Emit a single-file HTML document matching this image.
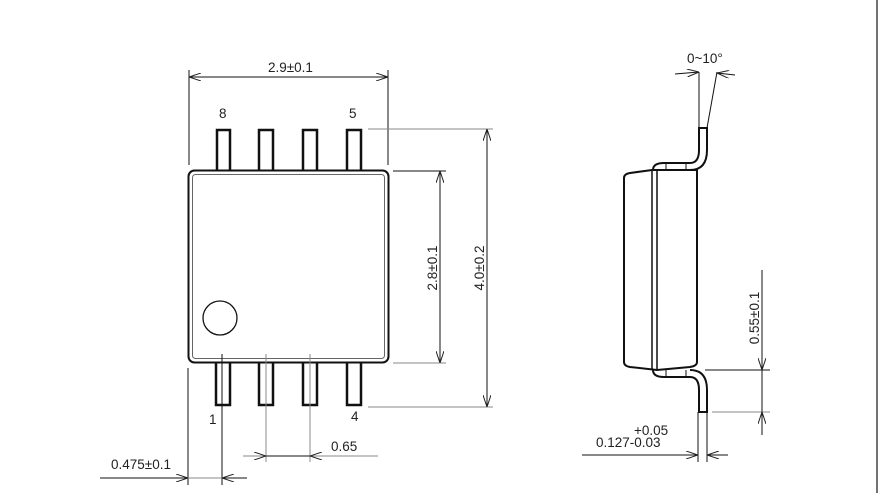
<!DOCTYPE html>
<html><head><meta charset="utf-8"><style>
html,body{margin:0;padding:0;background:#fff;}
svg{display:block}
text{font-family:"Liberation Sans",sans-serif;font-size:13.5px;fill:#222}
</style></head><body>
<svg width="878" height="495" viewBox="0 0 878 495" xmlns="http://www.w3.org/2000/svg">
<defs>
<marker id="a" viewBox="0 0 12 8" refX="12" refY="4" markerWidth="12" markerHeight="8" markerUnits="userSpaceOnUse" orient="auto-start-reverse">
<path d="M0,0 L12,4 L0,8" fill="none" stroke="#222" stroke-width="1"/></marker>
</defs>
<line x1="877" y1="0" x2="877" y2="493" stroke="#444" stroke-width="1.5"/>
<g fill="none" stroke="#111" stroke-width="1">
<rect x="188.5" y="170.5" width="200" height="192" rx="6" stroke-width="2"/>
<rect x="192.5" y="174.5" width="192" height="184" rx="3" stroke="#666"/>
<circle cx="220" cy="318" r="17" stroke-width="1.3"/>
<g stroke-width="2.5">
<path d="M217,170 V130 H230 V170"/><path d="M259,170 V130 H273 V170"/>
<path d="M303,170 V130 H317 V170"/><path d="M347,170 V130 H361 V170"/>
<path d="M216,363 V405 H230 V363"/><path d="M259,363 V405 H273 V363"/>
<path d="M303,363 V405 H317 V363"/><path d="M347,363 V405 H361 V363"/>
</g>
<line x1="189" y1="70" x2="189" y2="165"/>
<line x1="388" y1="70" x2="388" y2="165"/>
<line x1="189" y1="77" x2="388" y2="77" marker-start="url(#a)" marker-end="url(#a)"/>
<line x1="368" y1="129" x2="493" y2="129" stroke="#888"/>
<line x1="368" y1="407" x2="493" y2="407" stroke="#888"/>
<line x1="487" y1="129" x2="487" y2="407" marker-start="url(#a)" marker-end="url(#a)"/>
<line x1="393" y1="171" x2="446" y2="171"/>
<line x1="393" y1="363" x2="446" y2="363" stroke="#888"/>
<line x1="440" y1="171" x2="440" y2="363" marker-start="url(#a)" marker-end="url(#a)"/>
<line x1="188" y1="368" x2="188" y2="485"/>
<line x1="222" y1="354" x2="222" y2="485"/>
<line x1="100" y1="478" x2="188" y2="478" marker-end="url(#a)"/>
<line x1="188" y1="478" x2="222" y2="478" stroke="#888"/>
<line x1="247" y1="478" x2="222" y2="478" marker-end="url(#a)"/>
<line x1="266" y1="354" x2="266" y2="462" stroke="#888"/>
<line x1="310" y1="354" x2="310" y2="462" stroke="#888"/>
<line x1="243" y1="456" x2="266" y2="456" stroke="#888" marker-end="url(#a)"/>
<line x1="266" y1="456" x2="310" y2="456"/>
<line x1="378" y1="456" x2="310" y2="456" stroke="#888" marker-end="url(#a)"/>
<path d="M624,178 Q624,174 630,173 L652,170 L697,170 Q697,175 697,178 V362 Q697,366 690,367 L657,370 L630,367 Q624,366 624,362 Z" stroke-width="2"/>
<line x1="652" y1="170" x2="652" y2="370" stroke-width="1.5"/>
<line x1="657" y1="170" x2="657" y2="370" stroke-width="1.5"/>
<path d="M653,170 Q653,163 664,163 H690 Q699,163 699,150 V128 H707 V150 Q707,170 690,170 H653" stroke-width="2"/>
<line x1="666" y1="163" x2="666" y2="170"/><line x1="686" y1="163" x2="686" y2="170"/>
<path d="M653,370 Q653,377 664,377 H690 Q699,377 699,390 V412 H707 V390 Q707,370 690,370" stroke-width="2"/>
<line x1="666" y1="370" x2="666" y2="377"/><line x1="686" y1="370" x2="686" y2="377"/>
<line x1="699" y1="128" x2="699" y2="72"/>
<line x1="707" y1="128" x2="717" y2="72"/>
<line x1="675" y1="74" x2="699" y2="72" marker-end="url(#a)"/>
<line x1="735" y1="75" x2="717" y2="73" marker-end="url(#a)"/>
<line x1="705" y1="370" x2="770" y2="370"/>
<line x1="712" y1="412" x2="770" y2="412" stroke="#888"/>
<line x1="762" y1="270" x2="762" y2="370" marker-end="url(#a)"/>
<line x1="762" y1="370" x2="762" y2="412"/>
<line x1="762" y1="435" x2="762" y2="412" marker-end="url(#a)"/>
<line x1="698" y1="412" x2="698" y2="462"/>
<line x1="707" y1="412" x2="707" y2="462"/>
<line x1="582" y1="455" x2="698" y2="455" marker-end="url(#a)"/>
<line x1="728" y1="455" x2="707" y2="455" marker-end="url(#a)"/>
</g>
<g>
<text x="268" y="72">2.9±0.1</text>
<text x="219" y="118">8</text>
<text x="349" y="118">5</text>
<text x="209" y="424">1</text>
<text x="351" y="421">4</text>
<text x="331" y="451">0.65</text>
<text x="111" y="469">0.475±0.1</text>
<text transform="translate(437,268) rotate(-90)" text-anchor="middle">2.8±0.1</text>
<text transform="translate(484,268) rotate(-90)" text-anchor="middle">4.0±0.2</text>
<text x="687" y="63">0~10°</text>
<text transform="translate(759,318) rotate(-90)" text-anchor="middle">0.55±0.1</text>
<text x="634" y="435">+0.05</text>
<text x="596" y="447">0.127-0.03</text>
</g>
</svg>
</body></html>
